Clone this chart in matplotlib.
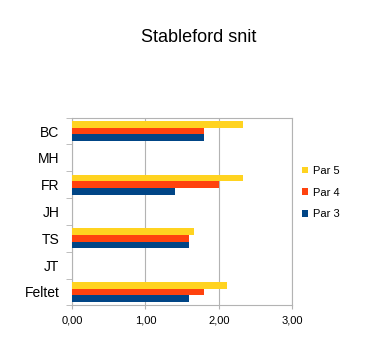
import numpy as np
import matplotlib.pyplot as plt

plt.rcParams['font.family'] = ['Liberation Sans', 'DejaVu Sans']

# Data (top to bottom as shown)
spillere = ['BC', 'MH', 'FR', 'JH', 'TS', 'JT', 'Feltet']
par3 = [1.80, 0, 1.40, 0, 1.60, 0, 1.60]
par4 = [1.80, 0, 2.00, 0, 1.60, 0, 1.80]
par5 = [2.33, 0, 2.33, 0, 1.66, 0, 2.11]
x_ticks = [0, 1, 2, 3]

farver = {'Par 5': '#FFD320', 'Par 4': '#FF420E', 'Par 3': '#004586'}

fig = plt.figure(figsize=(3.66, 3.47), dpi=100)
ax = fig.add_axes([0.197, 0.120, 0.601, 0.541])

y = np.arange(len(spillere))[::-1]
h = 0.25
b3 = ax.barh(y - h, par3, height=h, color=farver['Par 3'], zorder=3)
b4 = ax.barh(y, par4, height=h, color=farver['Par 4'], zorder=3)
b5 = ax.barh(y + h, par5, height=h, color=farver['Par 5'], zorder=3)

ax.set_xlim(0, 3)
ax.set_ylim(-0.5, len(spillere) - 0.5)
ax.set_xticks(x_ticks)
ax.set_xticklabels([('%.2f' % v).replace('.', ',') for v in x_ticks], fontsize=8)
ax.set_yticks(y)
ax.set_yticklabels(spillere, fontsize=10)
ax.set_yticks(np.arange(len(spillere) + 1) - 0.5, minor=True)
ax.tick_params(axis='y', which='major', length=0, pad=9)
ax.tick_params(axis='y', which='minor', length=4, color='#b3b3b3')
ax.tick_params(axis='x', length=3, color='#b3b3b3', pad=4)

ax.grid(axis='x', color='#b3b3b3', linewidth=0.8, zorder=0)
for s in ax.spines.values():
    s.set_color('#b3b3b3')
    s.set_linewidth(0.8)

ax.legend([b5, b4, b3], ['Par 5', 'Par 4', 'Par 3'],
          loc='center left', bbox_to_anchor=(1.0, 0.60), frameon=False,
          fontsize=8, handlelength=0.55, handleheight=0.55, handletextpad=0.45,
          labelspacing=1.05)

fig.suptitle('Stableford snit', fontsize=13, x=0.543, y=0.915)

fig.savefig('out.png', dpi=100)
